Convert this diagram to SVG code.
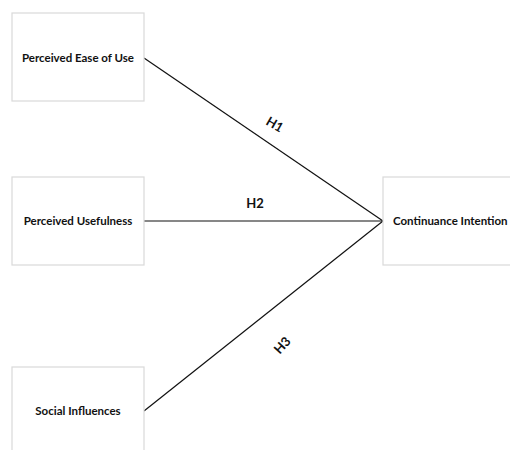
<svg xmlns="http://www.w3.org/2000/svg" width="510" height="450" viewBox="0 0 510 450">
<style>
.box{fill:#fff;stroke:#d9d9d9;stroke-width:1.2}
.lbl{font-family:Lato,"Open Sans","Liberation Sans",sans-serif;font-weight:bold;font-size:11.5px;fill:#111}
.hyp{font-family:Lato,"Open Sans","Liberation Sans",sans-serif;font-weight:bold;font-size:13px;fill:#111}
.con{stroke:#111;stroke-width:1.2;fill:none}
</style>
<rect width="510" height="450" fill="#fff"/>
<g id="connectors">
<line class="con" x1="144" y1="58" x2="383" y2="221"/>
<line class="con" x1="144" y1="221" x2="383" y2="221"/>
<line class="con" x1="144" y1="411" x2="383" y2="221"/>
<text class="hyp" x="275" y="129" text-anchor="middle" transform="rotate(30 275 124)">H1</text>
<text class="hyp" x="255" y="208" text-anchor="middle">H2</text>
<text class="hyp" x="282" y="350" text-anchor="middle" transform="rotate(-48 282 345)">H3</text>
</g>
<g id="peou">
<rect class="box" x="12" y="13" width="132" height="88"/>
<text class="lbl" x="78" y="62" text-anchor="middle">Perceived Ease of Use</text>
</g>
<g id="pu">
<rect class="box" x="12" y="177" width="132" height="88"/>
<text class="lbl" x="78" y="225" text-anchor="middle">Perceived Usefulness</text>
</g>
<g id="si">
<rect class="box" x="12" y="367" width="132" height="100"/>
<text class="lbl" x="78" y="415" text-anchor="middle">Social Influences</text>
</g>
<g id="ci">
<rect class="box" x="383" y="177" width="140" height="88"/>
<text class="lbl" x="393" y="225">Continuance Intention</text>
</g>
</svg>
